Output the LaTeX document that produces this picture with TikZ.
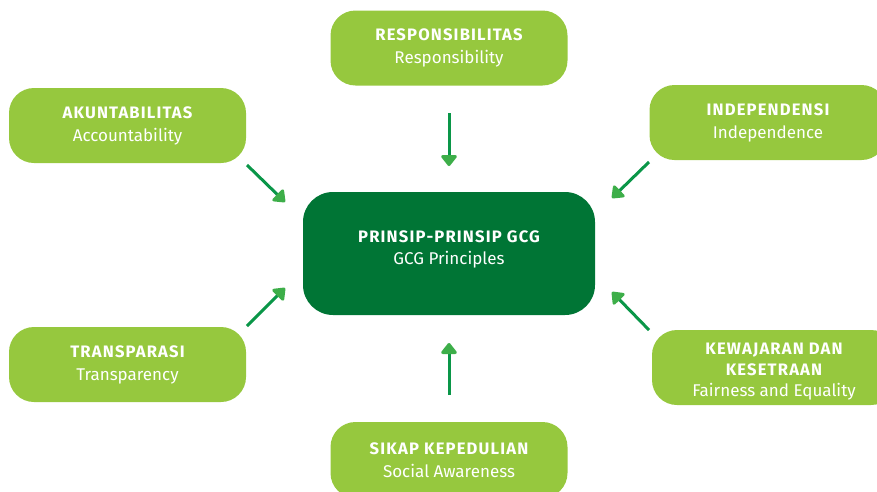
\documentclass[tikz,border=0pt]{standalone}
\usepackage{fontspec}
\setmainfont{Fira Sans}
\newfontfamily\spacedfont{Fira Sans}[LetterSpace=7]
\usetikzlibrary{arrows.meta}
\definecolor{leaf}{HTML}{96C83E}
\definecolor{forest}{HTML}{007535}
\definecolor{stem}{HTML}{0A9648}
\definecolor{tipgreen}{HTML}{3DAE49}
\newcommand{\hd}{\spacedfont\bfseries\fontsize{16.6}{23}\selectfont}
\newcommand{\hdtight}{\spacedfont\bfseries\fontsize{16.6}{21}\selectfont}
\tikzset{
  pillbox/.style={fill=leaf, rounded corners=25pt, minimum width=237pt, minimum height=75pt,
    inner sep=0pt, text=white, align=center, font=\fontsize{17}{23}\selectfont},
  corebox/.style={fill=forest, rounded corners=30pt, minimum width=292pt, minimum height=123pt,
    inner sep=0pt, text=white, align=center, font=\fontsize{17}{22}\selectfont},
  flow/.style={draw=stem, line width=3pt,
    -{Triangle[length=12pt,width=18pt,color=tipgreen,round]}}
}
\begin{document}
\begin{tikzpicture}[x=1pt,y=-1pt]
\useasboundingbox (0,0) rectangle (877,491);
\begin{scope}
\clip (0,0) rectangle (877,491);
\node[corebox, text depth=12pt] (gcg) at (449,253.5) {{\hd PRINSIP-PRINSIP GCG}\\GCG Principles};
\node[pillbox] (resp) at (449,48) {{\hd RESPONSIBILITAS}\\Responsibility};
\node[pillbox] (akun) at (127.5,125.5) {{\hd AKUNTABILITAS}\\Accountability};
\node[pillbox] (inde) at (768,122.5) {{\hd INDEPENDENSI}\\Independence};
\node[pillbox] (tran) at (127.5,364.5) {{\hd TRANSPARASI}\\Transparency};
% the strut on the first line lowers the three-line text within its box
\node[pillbox, minimum width=244pt, font=\fontsize{17}{21}\selectfont] (kewa) at (774,367.5)
  {{\hdtight\rule{0pt}{20pt}KEWAJARAN DAN}\\{\hdtight KESETRAAN}\\Fairness and Equality};
\node[pillbox, minimum height=76pt] (sika) at (449,460) {{\hd SIKAP KEPEDULIAN}\\Social Awareness};
\end{scope}
% arrow end points
\coordinate (r0) at (449,113); \coordinate (r1) at (449,166);
\coordinate (s0) at (449,395); \coordinate (s1) at (449,343);
\coordinate (a0) at (247,165); \coordinate (a1) at (285,202);
\coordinate (i0) at (649,162); \coordinate (i1) at (612,198);
\coordinate (t0) at (247,326); \coordinate (t1) at (285,288);
\coordinate (k0) at (649,330); \coordinate (k1) at (612,292);
\foreach \p in {r,s,a,i,t,k} \draw[flow] (\p0) -- (\p1);
\end{tikzpicture}
\end{document}
